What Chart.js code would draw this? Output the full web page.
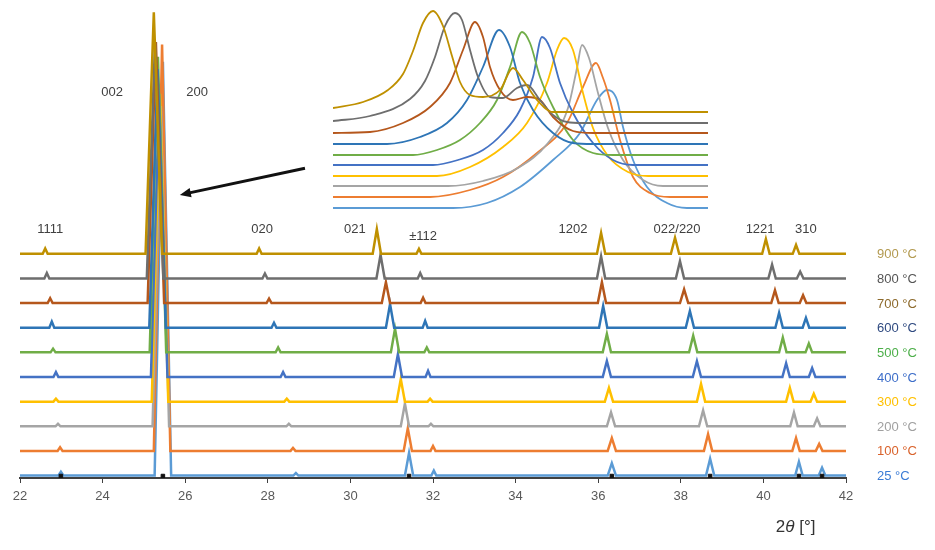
<!DOCTYPE html>
<html lang="en">
<head>
    <meta charset="UTF-8">
    <title>In-situ XRD patterns</title>
    <style>
        body { margin: 0; background: #fff; }
        #wrap { position: relative; width: 935px; height: 550px; }
        #mainChart { position: absolute; left: 0; top: 0; }
        /* zoomed view of the 002/200 reflection */
        #insetChart { position: absolute; left: 333px; top: 0; }
    </style>
</head>
<body>
<div id="wrap">
    <canvas id="mainChart" width="935" height="550"></canvas>
    <canvas id="insetChart" width="375" height="215"></canvas>
</div>

<script src="https://cdn.jsdelivr.net/npm/chart.js"></script>
<script>
    // series, top to bottom
    const temps = ['900 °C', '800 °C', '700 °C', '600 °C', '500 °C', '400 °C', '300 °C', '200 °C', '100 °C', '25 °C'];
    const offsets = [9, 8, 7, 6, 5, 4, 3, 2, 1, 0];
    const lineColors = ['#BF9000', '#6E6E6E', '#B5571C', '#2E75B6', '#70AD47', '#4472C4', '#FFC000', '#A5A5A5', '#ED7D31', '#5B9BD5'];
    const labelColors = ['#B39A50', '#555555', '#8D6A2C', '#2F4A80', '#4DAF4A', '#3D6EC9', '#FFC000', '#A0A0A0', '#D9622B', '#3A7BD5'];

    const xTicks = [22, 24, 26, 28, 30, 32, 34, 36, 38, 40, 42];

    // peak positions (2θ) and heights per temperature
    const reflections = ['1111', '002/200', '020', '021', '±112', '1202', '022/220', '1221', '310'];
    const halfWidths = [0.06, 0.2, 0.06, 0.1, 0.06, 0.1, 0.1, 0.09, 0.08];

    const pos1111 = [22.61, 22.65, 22.73, 22.77, 22.80, 22.87, 22.87, 22.92, 22.97, 22.99];
    const h1111   = [0.22, 0.22, 0.2, 0.25, 0.15, 0.2, 0.12, 0.1, 0.15, 0.15];
    const pos002  = [25.24, 25.27, 25.29, 25.33, 25.34, 25.37, 25.39, 25.41, 25.44, 25.46];
    const h002    = [9.8, 9.6, 10.6, 10.5, 12, 11.5, 12.5, 13, 16.5, 16.8];
    const pos020  = [27.79, 27.93, 28.03, 28.15, 28.25, 28.37, 28.46, 28.51, 28.61, 28.68];
    const h020    = [0.22, 0.2, 0.18, 0.2, 0.2, 0.2, 0.12, 0.1, 0.12, 0.1];
    const pos021  = [30.64, 30.73, 30.86, 30.96, 31.08, 31.15, 31.22, 31.32, 31.39, 31.42];
    const h021    = [1.0, 0.96, 0.85, 0.96, 0.96, 0.92, 0.92, 0.92, 0.92, 0.92];
    const pos112  = [31.66, 31.69, 31.76, 31.81, 31.85, 31.88, 31.93, 31.95, 32.00, 32.02];
    const h112    = [0.2, 0.22, 0.22, 0.28, 0.2, 0.25, 0.12, 0.1, 0.2, 0.2];
    const pos1202 = [36.07, 36.07, 36.09, 36.12, 36.21, 36.21, 36.26, 36.31, 36.33, 36.33];
    const h1202   = [0.85, 0.9, 0.85, 0.88, 0.75, 0.65, 0.56, 0.56, 0.52, 0.5];
    const pos022  = [37.86, 37.98, 38.08, 38.22, 38.30, 38.39, 38.49, 38.54, 38.66, 38.71];
    const h022    = [0.65, 0.7, 0.56, 0.68, 0.68, 0.64, 0.72, 0.64, 0.68, 0.68];
    const pos1221 = [40.06, 40.21, 40.28, 40.38, 40.47, 40.55, 40.64, 40.74, 40.79, 40.86];
    const h1221   = [0.6, 0.56, 0.52, 0.6, 0.6, 0.56, 0.56, 0.56, 0.52, 0.56];
    const pos310  = [40.79, 40.89, 40.96, 41.03, 41.10, 41.18, 41.22, 41.30, 41.35, 41.42];
    const h310    = [0.36, 0.28, 0.32, 0.4, 0.36, 0.36, 0.32, 0.32, 0.28, 0.32];

    const peakPositions = [pos1111, pos002, pos020, pos021, pos112, pos1202, pos022, pos1221, pos310];
    const peakHeights = [h1111, h002, h020, h021, h112, h1202, h022, h1221, h310];

    // reference markers on the axis (25 °C reflections)
    const refMarkers = [22.99, 25.46, 31.42, 36.33, 38.71, 40.86, 41.42];

    // label spots (2θ, offset units)
    const peakLabels = ['1111', '002', '200', '020', '021', '±112', '1202', '022/220', '1221', '310'];
    const labelX = [22.73, 24.23, 26.29, 27.86, 30.11, 31.76, 35.39, 37.91, 39.92, 41.03];
    const labelY = [10, 15.55, 15.55, 10, 10, 9.7, 10, 10, 10, 10];

    // inset: zoom on the 002/200 peak, x in relative steps, y in counts (offset)
    const inset900 = [[0,100],[30,106],[55,118],[70,134],[80,157],[90,185],[100,197],[110,182],[119,152],[127,126],[137,113],[150,111],[167,118],[180,140],[190,128],[204,108],[220,96],[375,96]];
    const inset800 = [[0,87],[37,92],[77,109],[92,127],[102,151],[112,182],[122,195],[129,188],[137,158],[145,131],[157,111],[170,110],[184,120],[194,123],[207,108],[220,93],[234,86],[250,85],[375,85]];
    const inset700 = [[0,75],[37,76],[70,85],[97,101],[117,125],[130,158],[142,186],[150,171],[157,141],[167,118],[180,108],[194,111],[207,108],[220,91],[240,77],[260,75],[375,75]];
    const inset600 = [[0,64],[54,64],[87,71],[114,85],[134,108],[150,141],[166,178],[177,161],[187,125],[200,98],[220,75],[240,65],[260,64],[375,64]];
    const inset500 = [[0,53],[80,53],[104,58],[127,68],[147,85],[164,108],[177,141],[189,176],[197,165],[207,131],[220,101],[240,68],[260,55],[280,53],[375,53]];
    const inset400 = [[0,43],[100,43],[125,48],[150,58],[170,75],[187,98],[200,131],[209,171],[217,160],[227,125],[240,95],[260,65],[280,48],[300,43],[375,43]];
    const inset300 = [[0,32],[104,32],[137,41],[170,61],[194,85],[214,125],[224,158],[231,170],[240,158],[250,115],[260,80],[275,52],[295,36],[315,32],[375,32]];
    const inset200 = [[0,22],[115,22],[150,27],[185,40],[215,65],[235,100],[244,140],[249,163],[256,150],[265,115],[275,80],[290,48],[310,28],[330,22],[375,22]];
    const inset100 = [[0,11],[97,11],[137,18],[170,31],[204,55],[234,85],[250,121],[263,145],[270,130],[277,108],[287,68],[300,31],[317,15],[337,11],[375,11]];
    const inset25  = [[0,0],[120,0],[154,5],[187,21],[220,48],[247,75],[264,108],[274,118],[284,108],[290,81],[300,48],[314,21],[334,5],[354,0],[375,0]];
    const insetCurves = [inset900, inset800, inset700, inset600, inset500, inset400, inset300, inset200, inset100, inset25];

    // build one pattern: flat baseline with a triangle per reflection
    function buildPattern(i) {
        const base = offsets[i];
        const peaks = reflections.map((r, k) => ({ c: peakPositions[k][i], h: peakHeights[k][i], w: halfWidths[k] }))
            .sort((a, b) => a.c - b.c);
        const pts = [{ x: xTicks[0], y: base }];
        peaks.forEach(p => {
            pts.push({ x: p.c - p.w, y: base });
            pts.push({ x: p.c, y: base + p.h });
            pts.push({ x: p.c + p.w, y: base });
        });
        pts.push({ x: xTicks[xTicks.length - 1], y: base });
        return pts;
    }

    const datasets = temps.map((t, i) => ({
        label: t,
        data: buildPattern(i),
        borderColor: lineColors[i],
        borderWidth: 2.5,
        pointRadius: 0,
        fill: false
    }));
    datasets.push({
        label: 'ref',
        type: 'scatter',
        data: refMarkers.map(x => ({ x: x, y: -0.02 })),
        pointStyle: 'rect',
        pointRadius: 2.5,
        backgroundColor: '#111',
        borderColor: '#111',
        order: -1
    });

    const fontFamily = '"Liberation Sans", Arial, sans-serif';

    const annotatePlugin = {
        id: 'annotate',
        afterDraw(chart) {
            const { ctx, scales: { x, y }, chartArea } = chart;
            ctx.save();

            // temperature labels at the right of each pattern
            ctx.font = '13px ' + fontFamily;
            ctx.textAlign = 'left';
            ctx.textBaseline = 'middle';
            temps.forEach((t, i) => {
                ctx.fillStyle = labelColors[i];
                ctx.fillText(t, chartArea.right + 31, y.getPixelForValue(offsets[i]) + 1);
            });

            // reflection labels
            ctx.fillStyle = '#404040';
            ctx.textAlign = 'center';
            peakLabels.forEach((txt, k) => {
                ctx.fillText(txt, x.getPixelForValue(labelX[k]), y.getPixelForValue(labelY[k]));
            });

            // arrow pointing from the inset to the main peak
            const x1 = x.getPixelForValue(28.90), y1 = y.getPixelForValue(12.47);
            const x2 = x.getPixelForValue(25.87), y2 = y.getPixelForValue(11.39);
            ctx.strokeStyle = '#111';
            ctx.fillStyle = '#111';
            ctx.lineWidth = 3;
            ctx.beginPath();
            ctx.moveTo(x1, y1);
            ctx.lineTo(x2 + 6, y2 - 1.3);
            ctx.stroke();
            const ang = Math.atan2(y2 - y1, x2 - x1);
            ctx.beginPath();
            ctx.moveTo(x2, y2);
            ctx.lineTo(x2 - 12 * Math.cos(ang - 0.4), y2 - 12 * Math.sin(ang - 0.4));
            ctx.lineTo(x2 - 12 * Math.cos(ang + 0.4), y2 - 12 * Math.sin(ang + 0.4));
            ctx.closePath();
            ctx.fill();

            // axis title 2θ [°]
            const ty = chartArea.bottom + 49;
            let tx = x.getPixelForValue(40.3);
            ctx.textAlign = 'left';
            ctx.fillStyle = '#333';
            ctx.font = '17px ' + fontFamily;
            ctx.fillText('2', tx, ty);
            tx += ctx.measureText('2').width;
            ctx.font = 'italic 17px ' + fontFamily;
            ctx.fillText('θ', tx, ty);
            tx += ctx.measureText('θ').width;
            ctx.font = '17px ' + fontFamily;
            ctx.fillText(' [°]', tx, ty);

            ctx.restore();
        }
    };

    new Chart(document.getElementById('mainChart'), {
        type: 'line',
        data: { datasets: datasets },
        options: {
            responsive: false,
            animation: false,
            layout: { padding: { left: 20, right: 89, top: 0, bottom: 0 } },
            plugins: { legend: { display: false }, tooltip: { enabled: false } },
            elements: { line: { tension: 0 } },
            scales: {
                x: {
                    type: 'linear',
                    min: xTicks[0],
                    max: xTicks[xTicks.length - 1],
                    afterBuildTicks: s => { s.ticks = xTicks.map(v => ({ value: v })); },
                    ticks: { color: '#595959', font: { family: fontFamily, size: 13 }, padding: 6, maxRotation: 0 },
                    grid: { drawOnChartArea: false, color: '#404040', tickLength: 5 },
                    border: { color: '#404040', width: 2 },
                    afterFit: s => { s.height = 72; }
                },
                y: { display: false, min: -0.1, max: 19.1 }
            }
        },
        plugins: [annotatePlugin]
    });

    new Chart(document.getElementById('insetChart'), {
        type: 'line',
        data: {
            datasets: insetCurves.map((c, i) => ({
                label: temps[i],
                data: c.map(p => ({ x: p[0], y: p[1] })),
                borderColor: lineColors[i],
                borderWidth: 1.8,
                pointRadius: 0,
                cubicInterpolationMode: 'monotone',
                fill: false
            }))
        },
        options: {
            responsive: false,
            animation: false,
            layout: { padding: 0 },
            plugins: { legend: { display: false }, tooltip: { enabled: false } },
            scales: {
                x: { type: 'linear', display: false, min: 0, max: 375 },
                y: { display: false, min: -7, max: 208 }
            }
        }
    });
</script>
</body>
</html>
